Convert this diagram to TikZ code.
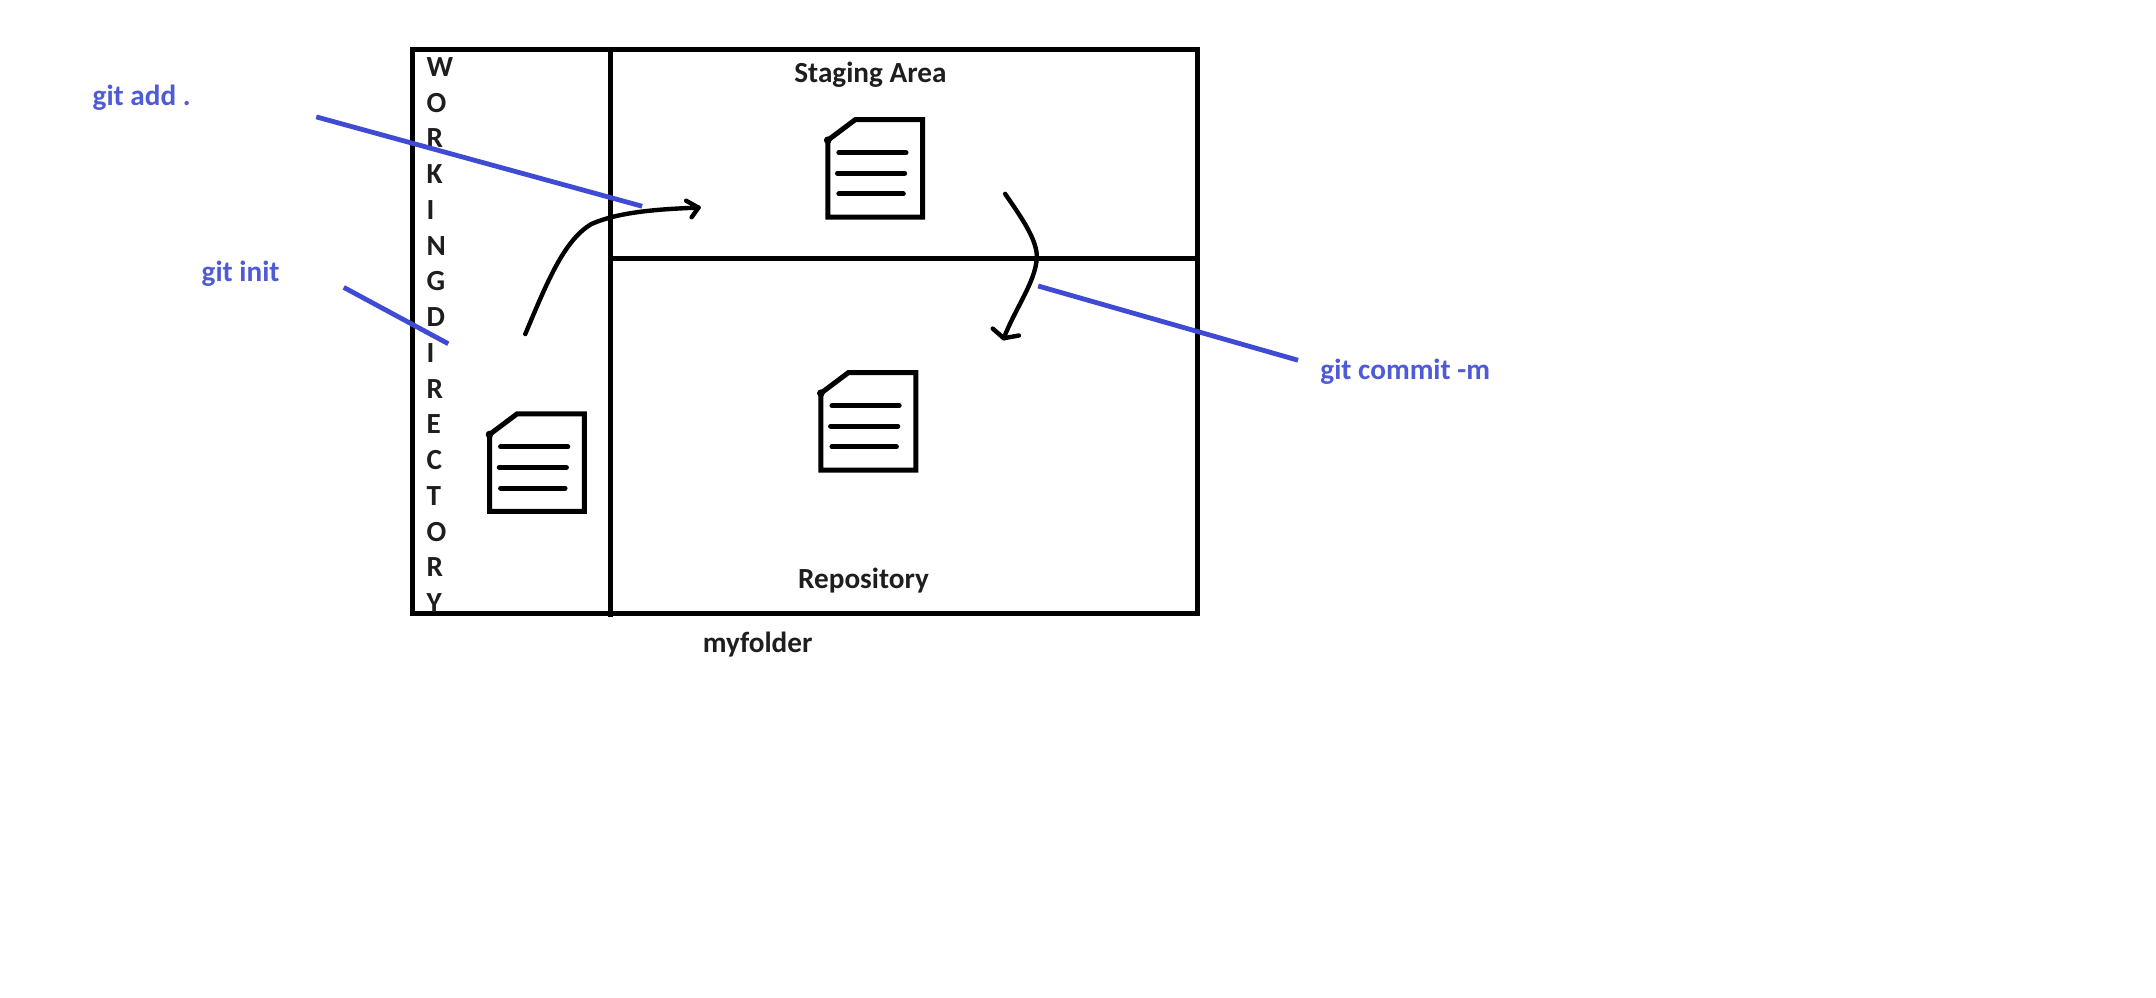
\documentclass[tikz,border=0pt]{standalone}
\usepackage{fontspec}
\setmainfont{Carlito}
\definecolor{bluelabel}{HTML}{4F5AD6}
\definecolor{blueline}{HTML}{3F4BD2}
\definecolor{inktext}{HTML}{1E1E1E}
\tikzset{
  frame/.style={draw=black,line width=2.5pt},
  ink/.style={draw=black,line width=2.2pt,line cap=round,line join=round},
  docline/.style={draw=black,line width=2.4pt,line cap=round},
  callout/.style={draw=blueline,line width=2.4pt},
  bluetext/.style={text=bluelabel,font=\fontsize{14.6}{17}\selectfont\bfseries,inner sep=0pt},
  blacktext/.style={text=inktext,font=\fontsize{14.6}{17}\selectfont\bfseries,inner sep=0pt},
  docicon/.pic={
    \draw[frame,line join=miter] (0,15) -- (20,0) -- (69,0) -- (69,71) -- (0,71) -- cycle;
    \fill (0,15) circle (2.8);
    \draw[docline] (8,24) -- (57,24);
    \draw[docline] (7,39) -- (56,39);
    \draw[docline] (8,54) -- (55,54);
  }
}
\begin{document}
\begin{tikzpicture}[x=0.6875pt,y=-0.6875pt]
\useasboundingbox (0,0) rectangle (1568,725.1);
% frame
\coordinate (boxnw) at (300,36);
\coordinate (boxse) at (871,446);
\coordinate (vtop) at (444,36);
\coordinate (vbot) at (444,449);
\coordinate (hleft) at (444,188);
\coordinate (hright) at (871,188);
\draw[frame] (boxnw) rectangle (boxse);
\draw[frame] (vtop) -- (vbot);
\draw[frame] (hleft) -- (hright);
% documents
\pic at (602,87) {docicon};
\pic at (356,301) {docicon};
\pic at (597,271) {docicon};
% text
\node[blacktext,anchor=north west,align=left,font=\fontsize{14.6}{17.875}\selectfont\bfseries] (wd) at (310,41.5)
  {W\\O\\R\\K\\I\\N\\G\\D\\I\\R\\E\\C\\T\\O\\R\\Y};
\node[blacktext] (staging) at (633,54) {Staging Area};
\node[blacktext] (repo) at (628,422) {Repository};
\node[blacktext] (folder) at (551,469) {myfolder};
\node[bluetext] (add) at (103,71) {git add .};
\node[bluetext] (init) at (175,199) {git init};
\node[bluetext] (commit) at (1022,270) {git commit -m};
% black arrows
\coordinate (a1s) at (382,243);
\coordinate (a1e) at (508,151);
\coordinate (a2s) at (731,141);
\coordinate (a2e) at (730,246);
\draw[ink] (a1s) .. controls (398,205) and (410,175) .. (430,163)
  .. controls (450,154) and (480,152) .. (a1e);
\draw[ink] (499,146) -- (a1e) -- (503,158);
\draw[ink] (a2s) .. controls (742,157) and (755,175) .. (754,188)
  .. controls (753,205) and (738,225) .. (a2e);
\draw[ink] (722,239) -- (a2e) -- (741,244);
% blue callouts
\coordinate (c1a) at (230,85);
\coordinate (c1b) at (467,150);
\coordinate (c2a) at (250,209);
\coordinate (c2b) at (326,250);
\coordinate (c3a) at (755,208);
\coordinate (c3b) at (944,262);
\draw[callout] (c1a) -- (c1b);
\draw[callout] (c2a) -- (c2b);
\draw[callout] (c3a) -- (c3b);
\end{tikzpicture}
\end{document}
